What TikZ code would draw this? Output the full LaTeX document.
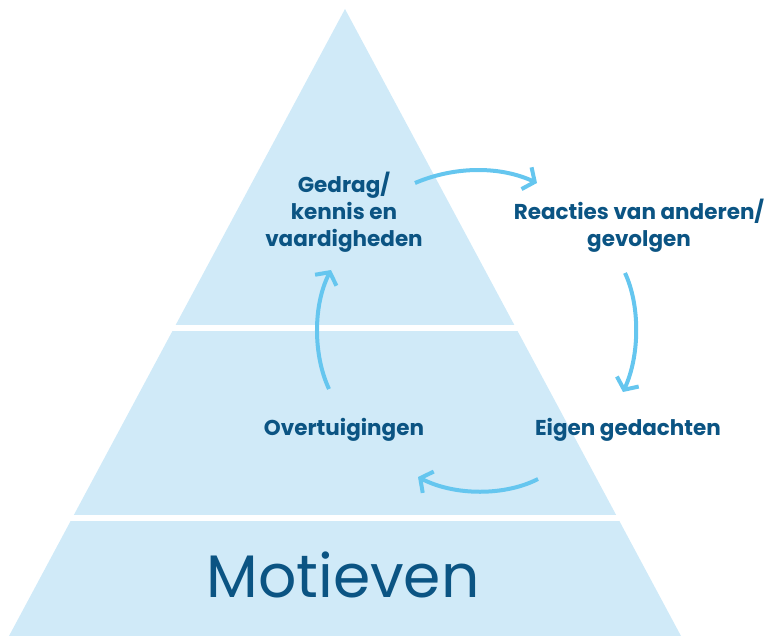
\documentclass[tikz,border=0pt]{standalone}
\usepackage{fontspec}
\setmainfont{Poppins}
\usetikzlibrary{arrows.meta}

\definecolor{tierfill}{HTML}{D0EAF8}
\definecolor{labelblue}{HTML}{0B5483}
\definecolor{cycleblue}{HTML}{65C6EF}

\begin{document}
\begin{tikzpicture}[x=1pt,y=-1pt]

        \useasboundingbox (0,0) rectangle (771,636);

        % pyramid, cut into three tiers by white bands
        \fill[tierfill] (345,9) -- (681,636) -- (9,636) -- cycle;
        \begin{scope}[every path/.style={draw=white,line width=6pt}]
          \path (0,328) -- (771,328);
          \path (0,518) -- (771,518);
        \end{scope}

        \begin{scope}[every node/.style={text=labelblue,align=center,
            font=\fontsize{21.5}{27}\selectfont\bfseries}]
          \node (gedrag)    at (344,212) {Gedrag/\\kennis en\\vaardigheden};
          \node (reacties)  at (639,226) {Reacties van anderen/\\gevolgen};
          \node (gedachten) at (628,430) {Eigen gedachten};
          \node (overtuig)  at (344,430) {Overtuigingen};
        \end{scope}

        \node[text=labelblue,font=\fontsize{60}{60}\selectfont] (motieven) at (343,575) {Motieven};

        % ends of the cycle arrows
        \coordinate (c1) at (415,183);
        \coordinate (c2) at (537,183);
        \coordinate (c3) at (625,273);
        \coordinate (c4) at (623,392);
        \coordinate (c5) at (538,479);
        \coordinate (c6) at (418,477);
        \coordinate (c7) at (329,389);
        \coordinate (c8) at (331,270);

        \begin{scope}[every path/.style={draw=cycleblue,line width=4pt,
            -{Straight Barb[length=9pt,width=24pt]}}]
          \path (c1) .. controls (455,166) and (500,166) .. (c2);
          \path (c3) .. controls (640,305) and (640,355) .. (c4);
          \path (c5) .. controls (505,496) and (455,496) .. (c6);
          \path (c7) .. controls (313,355) and (313,305) .. (c8);
        \end{scope}

      \end{tikzpicture}
\end{document}
